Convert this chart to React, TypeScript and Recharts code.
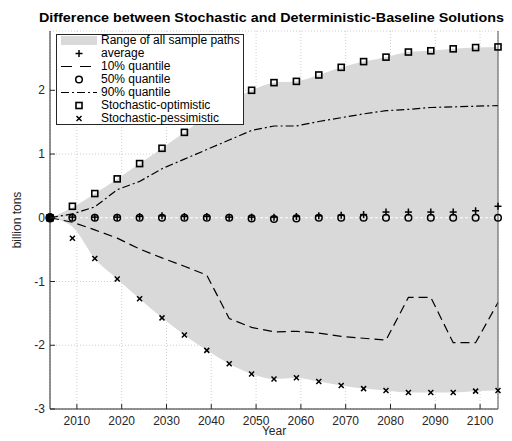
import React from 'react';
import { ComposedChart, Area, Line, XAxis, YAxis, CartesianGrid, ReferenceLine } from 'recharts';

const years = [2004, 2009, 2014, 2019, 2024, 2029, 2034, 2039, 2044, 2049, 2054, 2059, 2064, 2069, 2074, 2079, 2084, 2089, 2094, 2099, 2104];
const optimistic = [0, 0.18, 0.38, 0.61, 0.85, 1.09, 1.34, 1.6, 1.82, 2.0, 2.12, 2.14, 2.24, 2.36, 2.45, 2.52, 2.6, 2.62, 2.65, 2.67, 2.68];
const pessimistic = [0, -0.32, -0.64, -0.96, -1.27, -1.57, -1.84, -2.08, -2.29, -2.45, -2.53, -2.51, -2.57, -2.63, -2.68, -2.71, -2.74, -2.74, -2.74, -2.72, -2.71];
const rangeHigh = [0, 0.16, 0.38, 0.61, 0.85, 1.09, 1.34, 1.6, 1.82, 2.0, 2.12, 2.14, 2.24, 2.36, 2.45, 2.52, 2.6, 2.62, 2.65, 2.67, 2.68];
const rangeLow = [0, -0.14, -0.64, -0.96, -1.27, -1.57, -1.84, -2.08, -2.29, -2.45, -2.53, -2.51, -2.57, -2.63, -2.68, -2.71, -2.74, -2.74, -2.74, -2.72, -2.71];
const quantile10 = [0, -0.07, -0.19, -0.32, -0.49, -0.63, -0.76, -0.9, -1.58, -1.72, -1.79, -1.78, -1.81, -1.86, -1.89, -1.92, -1.25, -1.25, -1.96, -1.96, -1.33];
const quantile50 = [0, 0, 0, 0, 0, 0, 0, 0, 0, -0.01, -0.02, -0.01, 0, 0, 0, 0, 0, 0, 0, 0, 0];
const quantile90 = [0, 0.06, 0.17, 0.44, 0.57, 0.77, 0.92, 1.07, 1.22, 1.37, 1.44, 1.44, 1.51, 1.57, 1.63, 1.68, 1.7, 1.73, 1.74, 1.75, 1.76];
const average = [0, 0.01, 0.01, 0.01, 0.02, 0.03, 0.02, 0.02, 0.01, 0.01, 0.01, 0.02, 0.03, 0.04, 0.05, 0.09, 0.09, 0.09, 0.09, 0.11, 0.18];
const xTicks = [2010, 2020, 2030, 2040, 2050, 2060, 2070, 2080, 2090, 2100];
const yTicks = [-3, -2, -1, 0, 1, 2];
const legendLabels = ['Range of all sample paths', 'average', '10% quantile', '50% quantile', '90% quantile', 'Stochastic-optimistic', 'Stochastic-pessimistic'];

const data = years.map((year, i) => ({
  year,
  range: [rangeLow[i], rangeHigh[i]],
  avg: average[i],
  q10: quantile10[i],
  q50: quantile50[i],
  q90: quantile90[i],
  opt: optimistic[i],
  pess: pessimistic[i],
}));

const FONT = '"Liberation Sans", Arial, Helvetica, sans-serif';
const INK = '#262626';
const SHADE = '#d9d9d9';

const Plus = ({ cx, cy }: any) => (
  <g stroke="#000" strokeWidth={1.5}>
    <line x1={cx - 3.5} x2={cx + 3.5} y1={cy} y2={cy} />
    <line x1={cx} x2={cx} y1={cy - 3.5} y2={cy + 3.5} />
  </g>
);
const Circ = ({ cx, cy, filled }: any) => (
  <circle cx={cx} cy={cy} r={filled ? 4 : 3.3} fill={filled ? '#000' : 'none'} stroke="#000" strokeWidth={1.5} />
);
const Sq = ({ cx, cy }: any) => <rect x={cx - 3} y={cy - 3} width={6} height={6} fill="none" stroke="#000" strokeWidth={1.6} />;
const Cross = ({ cx, cy }: any) => (
  <g stroke="#000" strokeWidth={1.5}>
    <line x1={cx - 2.5} x2={cx + 2.5} y1={cy - 2.5} y2={cy + 2.5} />
    <line x1={cx - 2.5} x2={cx + 2.5} y1={cy + 2.5} y2={cy - 2.5} />
  </g>
);

const mk = (C: any, name: string) => (p: any) => <C key={`${name}-${p.index}`} cx={p.cx} cy={p.cy} filled={p.index === 0} />;

const BottomTick = ({ x, y, payload }: any) => (
  <g>
    <line x1={x} x2={x} y1={y} y2={y - 5} stroke={INK} />
    <text x={x} y={y + 16} textAnchor="middle" fontSize={12} fontFamily={FONT} fill={INK}>{payload.value}</text>
  </g>
);
const TopTick = ({ x, y }: any) => <line x1={x} x2={x} y1={y} y2={y + 5} stroke={INK} />;
const LeftTick = ({ x, y, payload }: any) => (
  <g>
    <line x1={x} x2={x + 5} y1={y} y2={y} stroke={INK} />
    <text x={x - 5} y={y + 4} textAnchor="end" fontSize={12} fontFamily={FONT} fill={INK}>{payload.value}</text>
  </g>
);
const RightTick = ({ x, y }: any) => <line x1={x} x2={x - 5} y1={y} y2={y} stroke={INK} />;

const LegendIcon = ({ i }: { i: number }) => {
  const cx = 18;
  const cy = 6.5;
  let el: any = null;
  if (i === 0) el = <rect x={0} y={2} width={36} height={9} fill={SHADE} />;
  if (i === 1) el = <Plus cx={cx} cy={cy} />;
  if (i === 2) el = <line x1={0} x2={36} y1={cy} y2={cy} stroke="#000" strokeWidth={1.2} strokeDasharray="11 8" />;
  if (i === 3) el = <Circ cx={cx} cy={cy} />;
  if (i === 4) el = <line x1={0} x2={36} y1={cy} y2={cy} stroke="#000" strokeWidth={1.2} strokeDasharray="8 3 2 3" />;
  if (i === 5) el = <Sq cx={cx} cy={cy} />;
  if (i === 6) el = <Cross cx={cx} cy={cy} />;
  return <svg width={40} height={13} style={{ display: 'block' }}>{el}</svg>;
};

export default function App() {
  return (
    <div style={{ position: 'absolute', left: 0, top: 0, width: 512, height: 441, background: '#fff' }}>
      <ComposedChart width={512} height={441} data={data} margin={{ top: 31, right: 0, bottom: 0, left: 0 }}>
        <CartesianGrid xAxisId="b" yAxisId="l" stroke="#cfcfcf" strokeDasharray="1 2" />
        <XAxis
          xAxisId="b"
          dataKey="year"
          type="number"
          domain={[2004, 2104]}
          ticks={xTicks}
          height={32}
          tickSize={0}
          tickMargin={0}
          tickLine={false}
          tick={<BottomTick />}
          axisLine={{ stroke: INK }}
          label={{
            content: ({ viewBox }: any) => (
              <text x={viewBox.x + viewBox.width / 2} y={435} textAnchor="middle" fontSize={12} fontFamily={FONT} fill={INK}>Year</text>
            ),
          }}
        />
        <XAxis
          xAxisId="t"
          orientation="top"
          type="number"
          domain={[2004, 2104]}
          ticks={xTicks}
          height={0}
          tickSize={0}
          tickMargin={0}
          tickLine={false}
          tick={<TopTick />}
          axisLine={{ stroke: INK }}
        />
        <YAxis
          yAxisId="l"
          type="number"
          domain={[-3, 2.93]}
          ticks={yTicks}
          width={50}
          tickSize={0}
          tickMargin={0}
          tickLine={false}
          tick={<LeftTick />}
          axisLine={{ stroke: INK }}
          label={{
            content: ({ viewBox }: any) => (
              <text transform={`translate(21,${viewBox.y + viewBox.height / 2}) rotate(-90)`} textAnchor="middle" fontSize={12} fontFamily={FONT} fill={INK}>billion tons</text>
            ),
          }}
        />
        <YAxis
          yAxisId="r"
          orientation="right"
          type="number"
          domain={[-3, 2.93]}
          ticks={yTicks}
          width={14}
          tickSize={0}
          tickMargin={0}
          tickLine={false}
          tick={<RightTick />}
          axisLine={{ stroke: '#555' }}
        />
        <Area xAxisId="b" yAxisId="l" dataKey="range" type="monotone" stroke="none" fill={SHADE} fillOpacity={1} isAnimationActive={false} activeDot={false} />
        <ReferenceLine xAxisId="b" yAxisId="l" y={0} stroke="#fff" strokeDasharray="3 2" />
        <Line xAxisId="b" yAxisId="l" dataKey="q10" stroke="#000" strokeWidth={1.2} strokeDasharray="9 5" dot={false} activeDot={false} isAnimationActive={false} />
        <Line xAxisId="b" yAxisId="l" dataKey="q90" stroke="#000" strokeWidth={1.2} strokeDasharray="8 3 2 3" dot={false} activeDot={false} isAnimationActive={false} />
        <Line xAxisId="b" yAxisId="l" dataKey="avg" stroke="none" dot={mk(Plus, 'avg')} activeDot={false} isAnimationActive={false} />
        <Line xAxisId="b" yAxisId="l" dataKey="opt" stroke="none" dot={mk(Sq, 'opt')} activeDot={false} isAnimationActive={false} />
        <Line xAxisId="b" yAxisId="l" dataKey="pess" stroke="none" dot={mk(Cross, 'pess')} activeDot={false} isAnimationActive={false} />
        <Line xAxisId="b" yAxisId="l" dataKey="q50" stroke="none" dot={mk(Circ, 'q50')} activeDot={false} isAnimationActive={false} />
      </ComposedChart>
      <svg width={512} height={30} style={{ position: 'absolute', left: 0, top: 0, pointerEvents: 'none' }}>
        <text x={271.5} y={22.3} textAnchor="middle" fontSize={13.5} fontWeight="bold" fontFamily={FONT} fill="#000" textLength={465} lengthAdjust="spacingAndGlyphs">
          Difference between Stochastic and Deterministic-Baseline Solutions
        </text>
      </svg>
      <div
        style={{
          position: 'absolute',
          left: 56,
          top: 34,
          width: 186,
          height: 89,
          border: `1px solid ${INK}`,
          background: '#fff',
          fontFamily: FONT,
          fontSize: 12,
          color: '#000',
        }}
      >
        {legendLabels.map((label, i) => (
          <div key={label} style={{ display: 'flex', alignItems: 'center', height: 13, marginTop: i === 0 ? -1 : 0 }}>
            <div style={{ width: 4 }} />
            <LegendIcon i={i} />
            <span style={{ lineHeight: '13px', whiteSpace: 'nowrap' }}>{label}</span>
          </div>
        ))}
      </div>
    </div>
  );
}
